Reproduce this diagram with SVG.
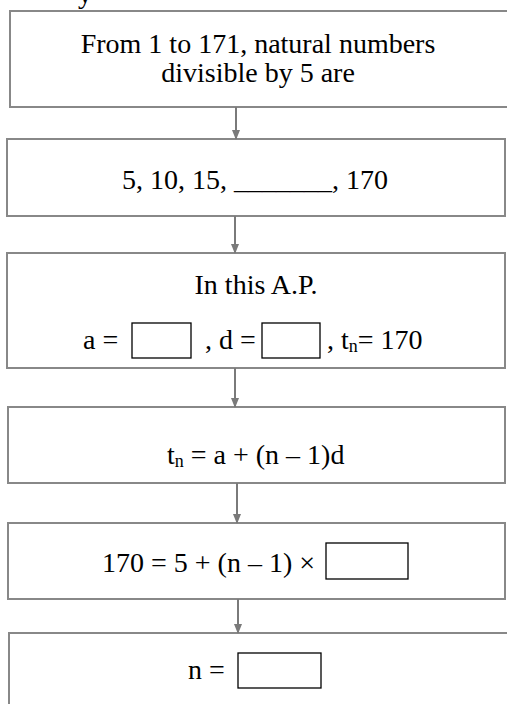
<svg xmlns="http://www.w3.org/2000/svg" width="507" height="704" viewBox="0 0 507 704">
<style>
.box{fill:#fff;stroke:#888;stroke-width:2}
.blank{fill:#fff;stroke:#000;stroke-width:1.3}
.t{font-family:"Liberation Serif","Times New Roman",serif;font-size:28px;fill:#000}
.c{text-anchor:middle}
.sub{font-size:18px}
.con{stroke:#7a7a7a;stroke-width:2;fill:none}
</style>
<defs>
<marker id="ah" markerWidth="10" markerHeight="8" refX="9" refY="4" orient="auto" markerUnits="userSpaceOnUse">
<path d="M0,0 L10,4 L0,8 Z" fill="#7a7a7a"/>
</marker>
</defs>
<text class="t" x="78" y="3">y</text>
<g id="n1">
<rect class="box" x="10" y="11" width="510" height="96"/>
<text class="t c" x="258" y="53">From 1 to 171, natural numbers</text>
<text class="t c" x="258" y="82">divisible by 5 are</text>
</g>
<g id="n2">
<rect class="box" x="7" y="139" width="498" height="77"/>
<text class="t" x="122" y="189">5, 10, 15, _______, 170</text>
</g>
<g id="n3">
<rect class="box" x="7" y="253" width="498" height="115"/>
<text class="t c" x="256" y="294">In this A.P.</text>
<text class="t" x="83" y="349">a =</text>
<rect class="blank" x="132" y="323" width="59" height="35"/>
<text class="t" x="205" y="349">, d =</text>
<rect class="blank" x="262" y="323" width="58" height="35"/>
<text class="t" x="327" y="349">, t<tspan class="sub" dy="3">n</tspan><tspan dy="-3">= 170</tspan></text>
</g>
<g id="n4">
<rect class="box" x="8" y="407" width="497" height="76"/>
<text class="t" x="167" y="464">t<tspan class="sub" dy="3">n</tspan><tspan dy="-3"> = a + (n – 1)d</tspan></text>
</g>
<g id="n5">
<rect class="box" x="8" y="523" width="497" height="76"/>
<text class="t" x="102" y="572">170 = 5 + (n – 1) ×</text>
<rect class="blank" x="326" y="543" width="82" height="36"/>
</g>
<g id="n6">
<rect class="box" x="9" y="633" width="510" height="90"/>
<text class="t" x="188" y="679">n =</text>
<rect class="blank" x="238" y="653" width="83" height="35"/>
</g>
<g id="connectors">
<line class="con" x1="236" y1="107" x2="236" y2="139" marker-end="url(#ah)"/>
<line class="con" x1="235" y1="216" x2="235" y2="253" marker-end="url(#ah)"/>
<line class="con" x1="235" y1="368" x2="235" y2="407" marker-end="url(#ah)"/>
<line class="con" x1="237" y1="483" x2="237" y2="523" marker-end="url(#ah)"/>
<line class="con" x1="238" y1="599" x2="238" y2="633" marker-end="url(#ah)"/>
</g>
</svg>
